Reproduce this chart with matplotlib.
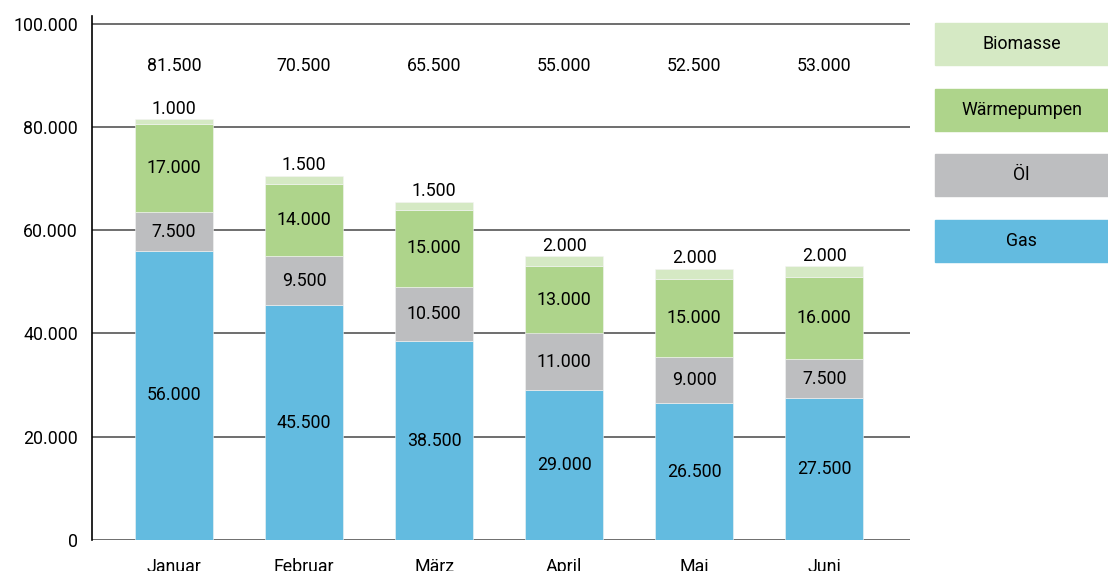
import numpy as np
import matplotlib.pyplot as plt
from matplotlib.patches import Rectangle

plt.rcParams['font.family'] = ['Roboto', 'DejaVu Sans']

# data
monate = ["Januar", "Februar", "März", "April", "Mai", "Juni"]
gas = [56000, 45500, 38500, 29000, 26500, 27500]
oel = [7500, 9500, 10500, 11000, 9000, 7500]
waerme = [17000, 14000, 15000, 13000, 15000, 16000]
biomasse = [1000, 1500, 1500, 2000, 2000, 2000]
summen = [81500, 70500, 65500, 55000, 52500, 53000]

serien = ["Gas", "Öl", "Wärmepumpen", "Biomasse"]
farben = ["#63BBE0", "#BDBEC0", "#AED48B", "#D5E9C4"]
fs = 12.8

def fmt(v):
    return f"{v:,.0f}".replace(",", ".")

fig = plt.figure(figsize=(11.08, 5.71), dpi=100)
ax = fig.add_axes([92/1108, 1 - 540/571, (910-92)/1108, (540-16)/571])

x = np.arange(len(monate))
breite = 0.6
unten = np.zeros(len(monate))
for name, werte, farbe in zip(serien, [gas, oel, waerme, biomasse], farben):
    werte = np.array(werte)
    ax.bar(x, werte, breite, bottom=unten, color=farbe, edgecolor="#f4f4f4",
           linewidth=0.4, zorder=3)
    for xi, b, w in zip(x, unten, werte):
        if name == "Biomasse":
            ax.text(xi, b + w + 300, fmt(w), ha="center", va="bottom", fontsize=fs, zorder=4)
        else:
            ax.text(xi, b + w / 2, fmt(w), ha="center", va="center", fontsize=fs, zorder=4)
    unten = unten + werte

for xi, s in zip(x, summen):
    ax.text(xi, 91800, fmt(s), ha="center", va="center", fontsize=fs)

ax.set_xlim(-0.631, 5.66)
ax.set_ylim(0, 101500)
ax.set_yticks(range(0, 100001, 20000))
ax.set_yticklabels([fmt(v) for v in range(0, 100001, 20000)], fontsize=fs)
ax.set_xticks(x)
ax.set_xticklabels(monate, fontsize=fs)
ax.tick_params(axis="both", length=0)
ax.tick_params(axis="y", pad=10)
ax.tick_params(axis="x", pad=13)
ax.yaxis.grid(True, color="#555555", linewidth=1.2, zorder=0)
for s in ["top", "right", "bottom"]:
    ax.spines[s].set_visible(False)
ax.spines["left"].set_color("black")
ax.spines["left"].set_linewidth(1.2)

# legend boxes
legende = [("Biomasse", farben[3], 23), ("Wärmepumpen", farben[2], 89),
           ("Öl", farben[1], 154), ("Gas", farben[0], 220)]
for name, farbe, top in legende:
    x0 = 935 / 1108
    y0 = 1 - (top + 42) / 571
    fig.patches.append(Rectangle((x0, y0), (1108 - 935) / 1108, 42 / 571,
                                 transform=fig.transFigure, color=farbe))
    fig.text(x0 + (1108 - 935) / 2216, y0 + 21 / 571, name, ha="center", va="center",
             fontsize=fs)

fig.savefig("out.png", dpi=100)
